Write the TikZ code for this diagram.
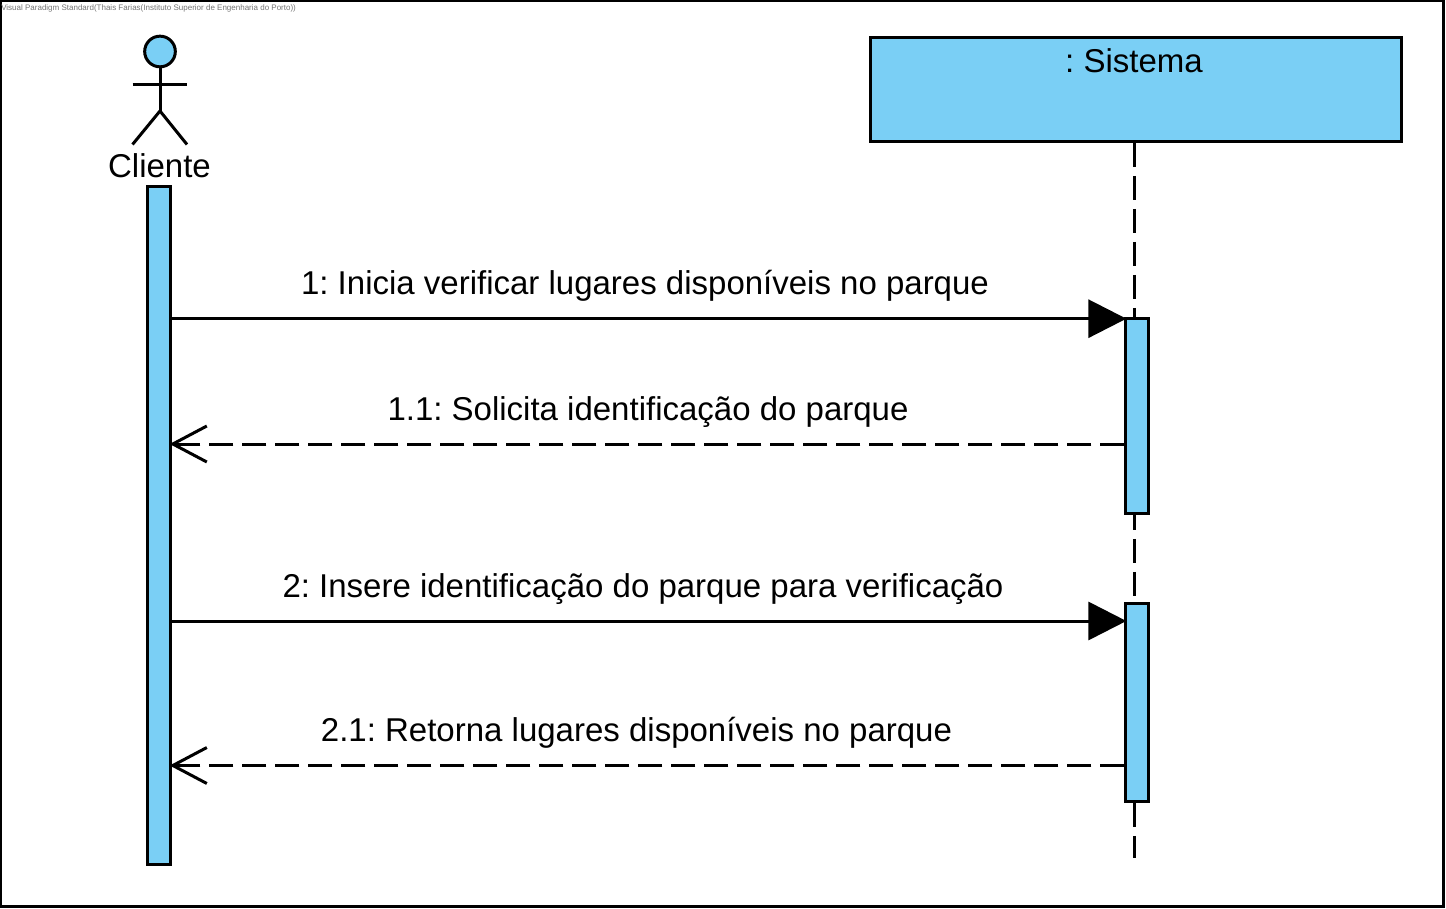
\documentclass[tikz,border=0pt]{standalone}
\usepackage{fontspec}
\setmainfont{Liberation Sans}
\usetikzlibrary{arrows.meta}
\definecolor{blue1}{RGB}{122,207,245}
\tikzset{
  box/.style={draw, line width=2.25pt, fill=blue1, inner sep=0pt},
  msg/.style={font=\fontsize{24.75}{30}\selectfont\frenchspacing, inner sep=0pt, anchor=base},
  call/.style={line width=2.25pt, shorten >=-1.5pt, -{Triangle[length=28.5pt,width=28.5pt]}},
  back/.style={line width=2.25pt, shorten >=-2pt, dash pattern=on 18pt off 6.75pt, -{Straight Barb[length=25.5pt,width=27pt]}},
}
\begin{document}
\begin{tikzpicture}[x=0.75pt,y=-0.75pt]
\useasboundingbox (0,0) rectangle (1446,909);
\draw[line width=2.25pt] (0.5,0.5) rectangle (1443.5,906.5);
\node[anchor=north west, inner sep=0pt, text=black!55, font=\fontsize{6}{7}\selectfont\frenchspacing] (stamp) at (1,4.5) {Visual Paradigm Standard(Thais Farias(Instituto Superior de Engenharia do Porto))};
% actor
\node[draw, line width=2.25pt, fill=blue1, circle, minimum size=23pt, inner sep=0pt] (head) at (160,51.5) {};
\coordinate (hip) at (160,111);
\coordinate (armL) at (132.5,84.5);
\coordinate (armR) at (187,84.5);
\coordinate (footL) at (132.5,144.5);
\coordinate (footR) at (187,144.5);
\draw[line width=2.25pt] (head.south) -- (hip);
\draw[line width=2.25pt] (armL) -- (armR);
\draw[line width=2.25pt] (footL) -- (hip) -- (footR);
\node[msg] (cliente) at (159.5,177.5) {Cliente};
% system
\node[box, minimum width=398.25pt, minimum height=78.25pt] (sistema) at (1135.7,89.2) {};
\node[msg] (sistemaLabel) at (1134,72.5) {: Sistema};
\coordinate (sistemaEnd) at (1134.5,858);
\draw[line width=2.25pt, dash pattern=on 18pt off 6.75pt] (sistema.south -| sistemaEnd) -- (sistemaEnd);
% bars
\node[box, minimum width=17.25pt, minimum height=507.75pt] (barC) at (159.3,525.5) {};
\node[box, minimum width=17.25pt, minimum height=145.5pt] (barA) at (1137.4,416) {};
\node[box, minimum width=17.25pt, minimum height=148.5pt] (barB) at (1137.4,702.5) {};
% messages
\coordinate (c1) at (0,318.7);
\coordinate (r1) at (0,444);
\coordinate (c2) at (0,621);
\coordinate (r2) at (0,765.5);
\draw[call] (barC.east |- c1) -- (barA.west |- c1);
\draw[back] (barA.west |- r1) -- (barC.east |- r1);
\draw[call] (barC.east |- c2) -- (barB.west |- c2);
\draw[back] (barB.west |- r2) -- (barC.east |- r2);
\node[msg] (m1) at (645,294.5) {1: Inicia verificar lugares disponíveis no parque};
\node[msg] (m2) at (648,420) {1.1: Solicita identificação do parque};
\node[msg] (m3) at (643,597) {2: Insere identificação do parque para verificação};
\node[msg] (m4) at (636.5,741) {2.1: Retorna lugares disponíveis no parque};
\end{tikzpicture}
\end{document}
